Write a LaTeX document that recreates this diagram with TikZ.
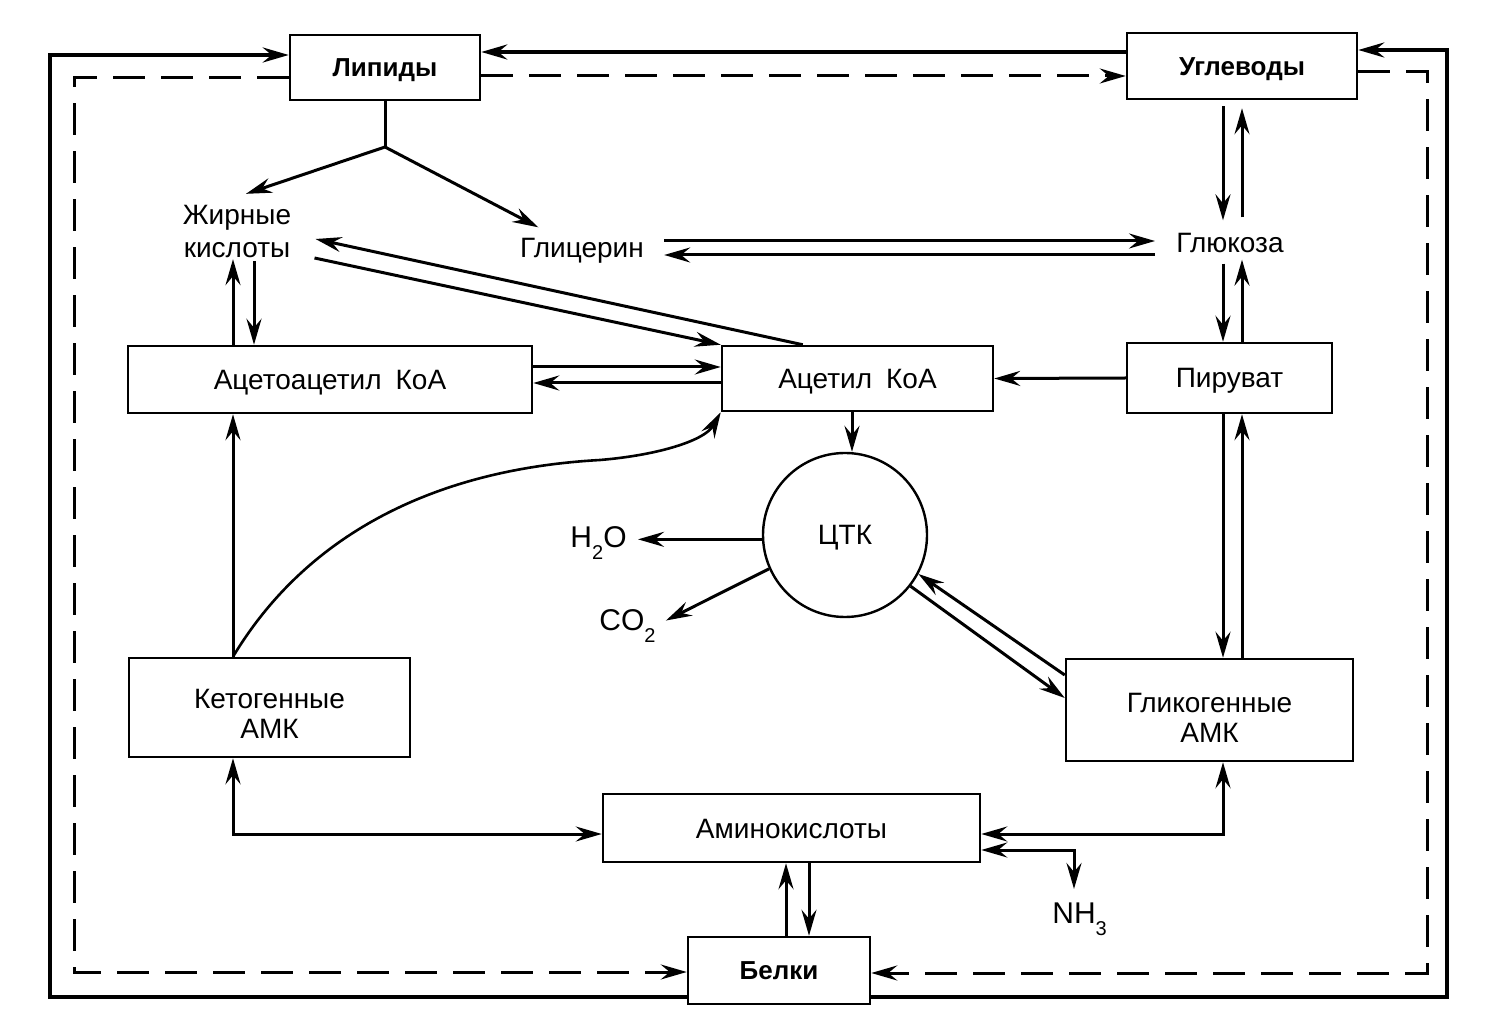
\documentclass[tikz,border=0pt]{standalone}
\usepackage{fontspec}
\setmainfont{Liberation Sans}
\usetikzlibrary{arrows.meta,calc}
\begin{document}
\begin{tikzpicture}[x=0.5pt,y=-0.5pt,
  font=\fontsize{14}{15}\selectfont,
  >={Stealth[length=13pt,width=7.5pt,inset=4.5pt]},
  bx/.style 2 args={draw, line width=1.25pt, inner sep=0pt, minimum width=#1*0.5pt, minimum height=#2*0.5pt, align=center, text height=10pt, text depth=0pt},
  boldtxt/.style={font=\bfseries\fontsize{13}{15}\selectfont, text height=9.3pt},
  txt/.style={inner sep=0pt},
  formula/.style={inner sep=0pt, font=\fontsize{15}{15}\selectfont},
  arr/.style={line width=1.5pt, ->},
  barr/.style={line width=1.5pt, <->},
  frame/.style={line width=2pt, line join=miter},
  dsh/.style={line width=1.5pt, dash pattern=on 16pt off 8pt, line join=miter}]
\useasboundingbox (0,0) rectangle (1494,1031);

% boxes
\node[bx={190}{65}, boldtxt] (lip) at (385,67.5) {Липиды};
\node[bx={230}{66}, boldtxt] (ugl) at (1242,66) {Углеводы};
\node[bx={404}{67}] (aca) at (330,379.5) {Ацетоацетил\hspace{0.5em}КоА};
\node[bx={271}{65}] (acoa) at (857.5,378.5) {Ацетил\hspace{0.5em}КоА};
\node[bx={205}{70}] (pyr) at (1229.5,378) {Пируват};
\node[bx={281}{99}, text height=30.5pt, text depth=0pt] (keto) at (269.5,707.5) {Кетогенные\\АМК};
\node[bx={287}{102}, text height=32pt, text depth=0pt] (glyk) at (1209.5,710) {Гликогенные\\АМК};
\node[bx={377}{68}] (amino) at (791.5,828) {Аминокислоты};
\node[bx={182}{67}, boldtxt] (bel) at (779,970.5) {Белки};
\node[draw, circle, line width=1.2pt, minimum size=82pt, inner sep=0pt, text height=10pt, text depth=0pt] (tca) at (845,535) {ЦТК};

% text nodes
\node[txt, align=center, font=\fontsize{14}{16.5}\selectfont] (fa) at (237,231.5) {Жирные\\кислоты};
\node[txt, anchor=base] (gly) at (582,258) {Глицерин};
\node[txt, anchor=base] (glu) at (1230,253) {Глюкоза};
\node[formula, anchor=base east] (h2o) at (627,548) {H\raisebox{-6pt}{\fontsize{10}{10}\selectfont 2}O};
\node[formula, anchor=base west] (co2) at (599,631) {CO\raisebox{-6pt}{\fontsize{10}{10}\selectfont 2}};
\node[formula, anchor=base west] (nh3) at (1052,923) {NH\raisebox{-6pt}{\fontsize{10}{10}\selectfont 3}};

% helper coordinates
\coordinate (xa) at (233,0);
\coordinate (xb) at (254,0);
\coordinate (xg1) at (1223,0);
\coordinate (xg2) at (1242,0);
\coordinate (xp1) at (786,0);
\coordinate (xp2) at (809,0);
\coordinate (xt) at (852,0);
\coordinate (xn) at (1074,0);
\coordinate (r52) at (0,52);
\coordinate (r76) at (0,76);
\coordinate (r241) at (0,241);
\coordinate (r255) at (0,255);
\coordinate (r367) at (0,367);
\coordinate (r383) at (0,383);
\coordinate (r675) at (0,675);
\coordinate (r698) at (0,698);
\coordinate (r834) at (0,834);
\coordinate (r850) at (0,850);
\coordinate (cTL) at (50,55);
\coordinate (cBL) at (50,997);
\coordinate (cBR) at (1447,997);
\coordinate (cTR) at (1447,50);
\coordinate (dTL) at (74,78);
\coordinate (dBL) at (74,972);
\coordinate (dTR) at (1427,72);
\coordinate (dBR) at (1427,973);
\coordinate (br) at (385,147);
\coordinate (cm) at (600,460);

% outer solid frame
\draw[frame,->] (bel.west |- cBL) -- (cBL) -- (cTL) -- (lip.west |- cTL);
\draw[frame,->] (bel.east |- cBR) -- (cBR) -- (cTR) -- (ugl.east |- cTR);
\draw[frame,->] (ugl.west |- r52) -- (lip.east |- r52);

% dashed frame
\draw[dsh,->] (lip.west |- dTL) -- (dTL) -- (dBL) -- (bel.west |- dBL);
\draw[dsh,->] (lip.east |- r76) -- (ugl.west |- r76);
\draw[dsh,->] (ugl.east |- dTR) -- (dTR) -- (dBR) -- (bel.east |- dBR);

% lipid branching
\draw[line width=1.5pt] (lip.south) -- (br);
\draw[arr] (br) -- ([shift={(9,-11)}]fa.north);
\draw[arr] (br) -- ([shift={(18.5,-11)}]gly.north west);

% glycerin <-> glucose
\draw[arr, shorten <=10pt, shorten >=10.5pt] (gly.east |- r241) -- (glu.west |- r241);
\draw[arr, shorten <=10.5pt, shorten >=10pt] (glu.west |- r255) -- (gly.east |- r255);

% carbohydrates <-> glucose <-> pyruvate
\draw[arr, shorten <=3pt, shorten >=6.5pt] (ugl.south -| xg1) -- (glu.north -| xg1);
\draw[arr, shorten <=8pt, shorten >=4pt] (glu.north -| xg2) -- (ugl.south -| xg2);
\draw[arr, shorten <=5pt] (glu.south -| xg1) -- (pyr.north -| xg1);
\draw[arr, shorten >=3pt] (pyr.north -| xg2) -- (glu.south -| xg2);

% pyruvate -> acetyl CoA
\draw[arr] (pyr.west) -- (acoa.east);

% acetoacetyl <-> acetyl
\draw[arr] (aca.east |- r367) -- (acoa.west |- r367);
\draw[arr] (acoa.west |- r383) -- (aca.east |- r383);

% fatty acids <-> acetoacetyl
\draw[arr, shorten >=0.5pt] (aca.north -| xa) -- (fa.south -| xa);
\draw[arr, shorten <=1.5pt] (fa.south -| xb) -- (aca.north -| xb);

% fatty acids <-> acetyl
\draw[arr] ([xshift=41pt]acoa.north west) -- ([shift={(24,7.5)}]fa.east);
\draw[arr] ([shift={(23,26.5)}]fa.east) -- (acoa.north west);

% acetyl -> TCA, products
\draw[arr] (acoa.south -| xt) -- (xt |- tca.north);
\draw[arr, shorten >=5.5pt] (tca.183) -- (h2o.east |- tca.183);
\draw[arr] (tca.204) -- ([shift={(10,-6)}]co2.east);

% TCA <-> glycogenic
\draw[arr] (glyk.west |- r675) -- (tca.-28);
\draw[arr] (tca.-38) -- (glyk.west |- r698);

% pyruvate <-> glycogenic
\draw[arr] (pyr.south -| xg1) -- (glyk.north -| xg1);
\draw[arr] (glyk.north -| xg2) -- (pyr.south -| xg2);

% ketogenic -> acetoacetyl, acetyl
\draw[arr] (keto.north -| xa) -- (aca.south -| xa);
\draw[arr, line width=1.3pt] (keto.north -| xa) .. controls (300,545) and (420,470) .. (cm) .. controls (660,455) and (705,440) .. (acoa.south west);

% amino acids
\draw[barr] (keto.south -| xa) |- (amino.west |- r834);
\draw[barr] (glyk.south -| xg1) |- (amino.east |- r834);
\draw[barr, shorten >=6.5pt] (amino.east |- r850) -| (xn |- nh3.north);
\draw[arr] (bel.north -| xp1) -- (amino.south -| xp1);
\draw[arr] (amino.south -| xp2) -- (bel.north -| xp2);
\end{tikzpicture}
\end{document}
